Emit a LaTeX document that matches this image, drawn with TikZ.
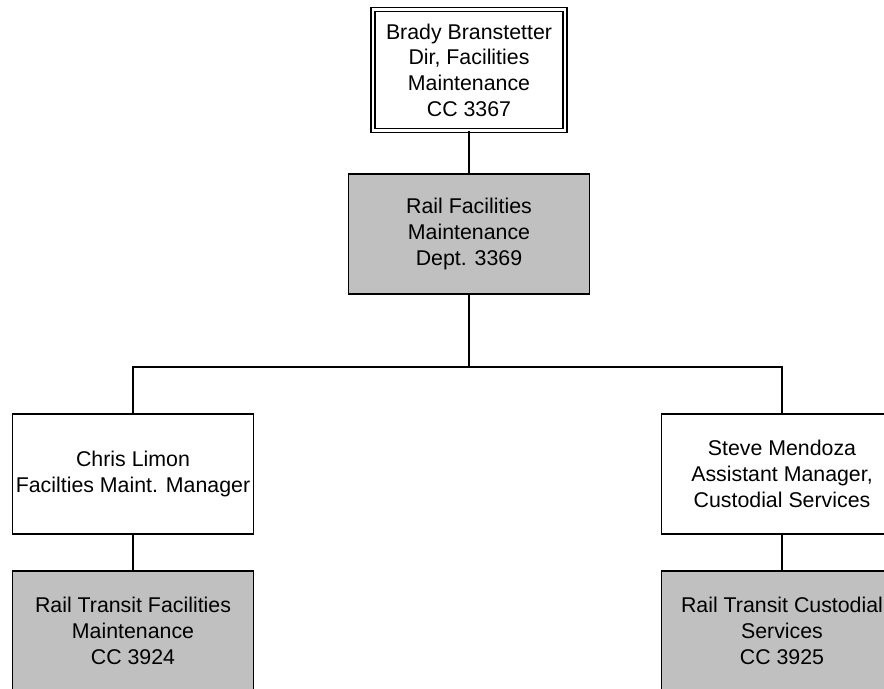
\documentclass[tikz,border=0pt]{standalone}
\usepackage{fontspec}
\setmainfont{Liberation Sans}
\usetikzlibrary{positioning}
\definecolor{deptgray}{RGB}{192,192,192}
\tikzset{
  orgbox/.style  = {draw=black, line width=1pt, fill=white, inner sep=0pt,
                    minimum width=180.75pt, minimum height=90pt, align=center,
                    font=\fontsize{16}{19.3}\selectfont},
  deptbox/.style = {orgbox, fill=deptgray},
  headbox/.style = {orgbox, line width=1pt, double=white, double distance=2pt,
                    minimum width=144pt, minimum height=90.75pt},
  link/.style    = {draw=black, line width=1pt},
}
\begin{document}
\begin{tikzpicture}[x=0.75pt, y=-0.75pt]

\path[use as bounding box, clip] (0,0) rectangle (884,688);
\fill[white] (0,0) rectangle (884,688);

\node[headbox] (head) at (469,70)
  {Brady Branstetter\\Dir, Facilities\\Maintenance\\CC 3367};
\node[deptbox] (dept) at (469,234)
  {Rail Facilities\\Maintenance\\Dept. 3369};
\coordinate (bar) at (469,367);

\node[orgbox] (limon) at (133,474)
  {Chris Limon\\Facilties Maint. Manager};
\node[orgbox] (mendoza) at (782,474)
  {Steve Mendoza\\Assistant Manager,\\Custodial Services};

\node[deptbox] (maint) at (133,631)
  {Rail Transit Facilities\\Maintenance\\CC 3924};
\node[deptbox] (cust) at (782,631)
  {Rail Transit Custodial\\Services\\CC 3925};

\draw[link] (head) -- (dept);
\draw[link] (dept) -- (bar);
\draw[link] (limon) |- (bar) -| (mendoza);
\draw[link] (limon) -- (maint);
\draw[link] (mendoza) -- (cust);

\end{tikzpicture}
\end{document}
